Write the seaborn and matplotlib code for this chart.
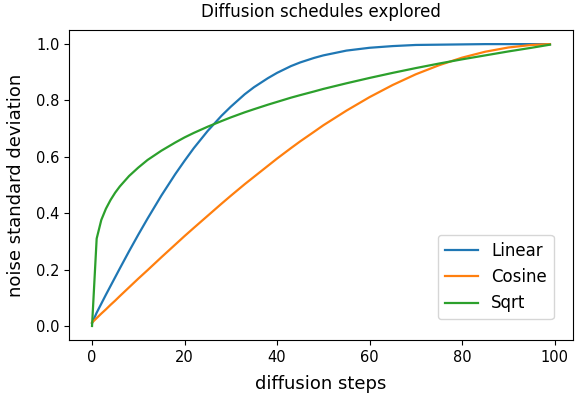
import matplotlib
matplotlib.use("Agg")
import matplotlib.pyplot as plt
import seaborn as sns
import pandas as pd

steps = [0, 1, 2, 3, 4, 5, 6, 8, 10, 12, 15, 18, 20, 22, 25, 28, 30, 33, 35,
         38, 40, 43, 45, 48, 50, 55, 60, 65, 70, 75, 80, 85, 90, 95, 99]

linear = [0.010, 0.047, 0.079, 0.111, 0.142, 0.173, 0.204, 0.265, 0.324, 0.381,
          0.463, 0.539, 0.586, 0.631, 0.692, 0.746, 0.778, 0.822, 0.847, 0.879,
          0.898, 0.922, 0.935, 0.951, 0.960, 0.977, 0.987, 0.993, 0.997, 0.998,
          0.999, 1.000, 1.000, 1.000, 1.000]

cosine = [0.012, 0.028, 0.044, 0.059, 0.075, 0.090, 0.106, 0.137, 0.168, 0.198,
          0.244, 0.289, 0.319, 0.348, 0.391, 0.434, 0.462, 0.503, 0.529, 0.568,
          0.594, 0.631, 0.655, 0.689, 0.712, 0.764, 0.812, 0.855, 0.893, 0.925,
          0.952, 0.973, 0.988, 0.997, 1.000]

sqrt_s = [0.000, 0.310, 0.376, 0.416, 0.447, 0.473, 0.495, 0.532, 0.562, 0.589,
          0.622, 0.651, 0.669, 0.685, 0.707, 0.727, 0.740, 0.758, 0.769, 0.785,
          0.795, 0.810, 0.819, 0.832, 0.841, 0.861, 0.880, 0.898, 0.915, 0.931,
          0.946, 0.960, 0.974, 0.987, 0.998]

series_names = ["Linear", "Cosine", "Sqrt"]
series_vals = [linear, cosine, sqrt_s]
colors = ["#1f77b4", "#ff7f0e", "#2ca02c"]

fig = plt.figure(figsize=(5.81, 3.95), dpi=100)
ax = fig.add_axes([0.119, 0.139, 0.867, 0.785])

for name, vals, c in zip(series_names, series_vals, colors):
    df = pd.DataFrame({"step": steps, "std": vals})
    sns.lineplot(data=df, x="step", y="std", ax=ax, color=c, label=name,
                 linewidth=1.6)

ax.set_title("Diffusion schedules explored", fontsize=12, pad=9.5)
ax.set_xlabel("diffusion steps", fontsize=13, labelpad=7.5)
ax.set_ylabel("noise standard deviation", fontsize=13, labelpad=8)
ax.set_xticks([0, 20, 40, 60, 80, 100])
ax.set_yticks([0.0, 0.2, 0.4, 0.6, 0.8, 1.0])
ax.tick_params(labelsize=10.5)
ax.set_xlim(-4.95, 103.95)
ax.set_ylim(-0.05, 1.05)
ax.legend(loc="lower right", bbox_to_anchor=(0.962, 0.068), borderaxespad=0,
          fontsize=12)

fig.savefig("out.png", dpi=100)
